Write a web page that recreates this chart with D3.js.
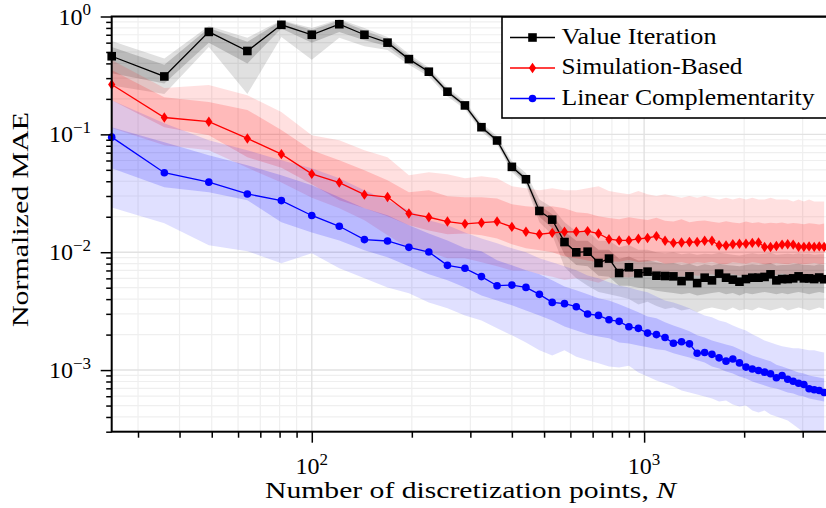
<!DOCTYPE html>
<html>
<head>
<meta charset="utf-8">
<script src="https://cdn.jsdelivr.net/npm/d3@7"></script>
<style>
  html, body { margin: 0; padding: 0; background: #fff; }
  svg { display: block; }
  text { font-family: "Liberation Serif", "Times New Roman", serif; fill: #000; }
</style>
</head>
<body>
<svg id="chart" width="826" height="508"></svg>
<script>
// Number of discretization points (k x k grids, k = 5..59)
const N = [25,36,49,64,81,100,121,144,169,196,225,256,289,324,361,400,441,484,529,576,
  625,676,729,784,841,900,961,1024,1089,1156,1225,1296,1369,1444,1521,1600,1681,1764,1849,1936,
  2025,2116,2209,2304,2401,2500,2601,2704,2809,2916,3025,3136,3249,3364,3481];

// Value Iteration: mean and two percentile bands
const viMean = [0.46,0.31,0.74,0.51,0.85,0.70,0.86,0.70,0.60,0.435,
  0.34,0.23,0.176,0.115,0.0887,0.053,0.0416,0.0224,0.0189,0.0122,
  0.00998,0.0101,0.0081,0.00883,0.00666,0.00745,0.00662,0.00684,0.00632,0.00628,
  0.00624,0.00569,0.00624,0.00547,0.00608,0.00577,0.00658,0.00608,0.00585,0.00562,
  0.00592,0.00608,0.00608,0.00617,0.00649,0.00577,0.00592,0.00592,0.006,0.00624,
  0.006,0.006,0.00592,0.0061,0.0059];
const viInHi = [0.55,0.39,0.80,0.61,0.92,0.77,0.93,0.76,0.64,0.46,
  0.355,0.24,0.183,0.12,0.093,0.056,0.044,0.025,0.021,0.015,
  0.0125,0.0125,0.0105,0.0105,0.0088,0.0092,0.0085,0.0086,0.0082,0.0080,
  0.0081,0.0078,0.0080,0.0076,0.0079,0.0077,0.0080,0.0078,0.0077,0.0076,
  0.0078,0.0079,0.0078,0.0079,0.0081,0.0077,0.0078,0.0078,0.0079,0.0080,
  0.0078,0.0078,0.0077,0.0079,0.0078];
const viInLo = [0.33,0.27,0.60,0.40,0.79,0.60,0.74,0.63,0.56,0.41,
  0.325,0.22,0.169,0.11,0.085,0.050,0.039,0.020,0.016,0.0095,
  0.0078,0.0076,0.0063,0.0062,0.0052,0.0052,0.0050,0.0049,0.0047,0.0046,
  0.0045,0.0044,0.0045,0.0043,0.0044,0.0045,0.0046,0.0044,0.0045,0.0043,
  0.0045,0.0044,0.0045,0.0046,0.0045,0.0044,0.0045,0.0044,0.0045,0.0046,
  0.0045,0.0044,0.0045,0.0046,0.0045];
const viOutHi = [0.62,0.44,0.83,0.66,0.93,0.80,0.95,0.80,0.67,0.48,
  0.37,0.25,0.19,0.125,0.097,0.059,0.047,0.028,0.024,0.018,
  0.015,0.015,0.0125,0.0125,0.011,0.0115,0.0105,0.0105,0.0100,0.0098,
  0.0100,0.0096,0.0098,0.0095,0.0097,0.0096,0.0099,0.0097,0.0095,0.0094,
  0.0096,0.0098,0.0096,0.0097,0.0099,0.0095,0.0096,0.0097,0.0096,0.0098,
  0.0096,0.0097,0.0095,0.0096,0.0096];
const viOutLo = [0.26,0.22,0.55,0.22,0.67,0.43,0.66,0.56,0.52,0.39,
  0.31,0.21,0.163,0.106,0.082,0.048,0.037,0.018,0.014,0.0075,
  0.006,0.0052,0.0046,0.0044,0.0042,0.0040,0.0036,0.0038,0.0035,0.0033,
  0.0034,0.0032,0.0033,0.0031,0.0033,0.0034,0.0033,0.0032,0.0034,0.0032,
  0.0033,0.0032,0.0034,0.0033,0.0032,0.0033,0.0034,0.0032,0.0033,0.0034,
  0.0033,0.0032,0.0033,0.0034,0.0033];

// Simulation-Based
const sbMean = [0.265,0.139,0.128,0.0923,0.0679,0.0462,0.039,0.0308,0.0294,0.0213,
  0.0198,0.0182,0.0174,0.0178,0.0182,0.0164,0.0149,0.0142,0.0146,0.0149,
  0.0149,0.0151,0.0144,0.0129,0.0126,0.0126,0.0130,0.0132,0.0137,0.0125,
  0.0120,0.0121,0.0122,0.0122,0.0125,0.0125,0.01145,0.0114,0.01167,0.0118,
  0.0118,0.0120,0.0121,0.01107,0.01107,0.0113,0.0116,0.01167,0.0116,0.0111,
  0.0111,0.0112,0.0111,0.0112,0.0111];
const sbInHi = [0.351,0.206,0.188,0.161,0.109,0.0734,0.0604,0.0496,0.0408,0.0322,
  0.0336,0.0298,0.0292,0.0292,0.0286,0.0255,0.0245,0.0241,0.0245,0.0236,
  0.0218,0.0214,0.0202,0.0195,0.0190,0.0198,0.0192,0.0188,0.0196,0.0185,
  0.0182,0.0190,0.0180,0.0184,0.0186,0.0181,0.0178,0.0183,0.0179,0.0176,
  0.0182,0.0177,0.0180,0.0175,0.0178,0.0176,0.0179,0.0174,0.0177,0.0175,
  0.0173,0.0176,0.0174,0.0172,0.0175];
const sbInLo = [0.195,0.115,0.0985,0.064,0.052,0.0378,0.0276,0.0236,0.0202,0.0169,
  0.0153,0.0142,0.0144,0.0139,0.0131,0.0117,0.0108,0.0104,0.0100,0.0092,
  0.0089,0.0085,0.0082,0.0084,0.0083,0.0086,0.0082,0.0084,0.0085,0.0080,
  0.0081,0.0082,0.0080,0.0082,0.0081,0.0083,0.0080,0.0079,0.0082,0.0081,
  0.0080,0.0082,0.0081,0.0079,0.0080,0.0081,0.0080,0.0079,0.0081,0.0080,
  0.0079,0.0080,0.0081,0.0080,0.0079];
const sbOutHi = [0.427,0.247,0.262,0.215,0.155,0.0985,0.0893,0.0734,0.064,0.045,
  0.0477,0.0459,0.0425,0.0441,0.0425,0.0363,0.0349,0.0336,0.0349,0.0336,
  0.0336,0.0349,0.0363,0.033,0.032,0.031,0.033,0.031,0.030,0.031,
  0.030,0.029,0.030,0.029,0.030,0.029,0.028,0.029,0.028,0.029,
  0.028,0.029,0.028,0.028,0.029,0.028,0.028,0.028,0.027,0.028,
  0.027,0.028,0.027,0.027,0.027];
const sbOutLo = [0.113,0.081,0.0734,0.052,0.039,0.029,0.0236,0.0187,0.0139,0.0108,
  0.0100,0.0089,0.0089,0.0082,0.0076,0.0070,0.0070,0.0065,0.0062,0.0058,
  0.0060,0.0058,0.0055,0.0060,0.0062,0.0061,0.0063,0.0064,0.0062,0.0063,
  0.0064,0.0062,0.0065,0.0063,0.0064,0.0065,0.0063,0.0064,0.0065,0.0063,
  0.0064,0.0066,0.0064,0.0063,0.0065,0.0064,0.0066,0.0064,0.0065,0.0063,
  0.0064,0.0065,0.0064,0.0063,0.0064];

// Linear Complementarity
const lcMean = [0.0947,0.0473,0.0393,0.0312,0.0274,0.0205,0.0166,0.0128,0.01245,0.0110,
  0.01004,0.00774,0.0073,0.00621,0.0052,0.00526,0.00503,0.00439,0.00375,0.00366,
  0.00345,0.00299,0.00291,0.00267,0.00259,0.00233,0.00226,0.00206,0.0020,0.00189,
  0.00169,0.00174,0.00167,0.00139,0.00141,0.00136,0.00127,0.00119,0.00124,0.00115,
  0.00106,0.00102,0.000993,0.00096,0.00093,0.00086,0.0009,0.000837,0.000805,0.000774,
  0.000755,0.000694,0.00068,0.000671,0.000645];
const lcInHi = [0.115,0.0859,0.0666,0.0547,0.045,0.037,0.0292,0.0236,0.0206,0.0169,
  0.0144,0.0126,0.0108,0.0102,0.00853,0.00774,0.00702,0.0065,0.00577,0.00513,
  0.00475,0.0044,0.00406,0.0039,0.00361,0.00334,0.00309,0.00285,0.00275,0.00254,
  0.00239,0.00226,0.00213,0.00197,0.00189,0.00178,0.00171,0.00165,0.00159,0.0015,
  0.00141,0.00133,0.00128,0.00123,0.00119,0.00111,0.00107,0.00103,0.000992,0.000954,
  0.000935,0.0009,0.000882,0.000865,0.000848];
const lcInLo = [0.0516,0.0356,0.0323,0.0276,0.018,0.0147,0.0126,0.01038,0.00905,0.00759,
  0.0065,0.00577,0.00503,0.0043,0.0039,0.00354,0.00321,0.00291,0.00264,0.00234,
  0.00217,0.00201,0.00193,0.00186,0.00171,0.00168,0.00162,0.00156,0.0015,0.00147,
  0.00139,0.00133,0.00128,0.00121,0.00116,0.00107,0.00103,0.000972,0.000935,0.000882,
  0.00085,0.0008,0.00077,0.00074,0.000712,0.000698,0.000671,0.000645,0.000632,0.000608,
  0.000596,0.000573,0.000562,0.000552,0.000541];
const lcOutHi = [0.195,0.1245,0.0893,0.0734,0.0604,0.0516,0.0424,0.0336,0.0276,0.0227,
  0.0187,0.0169,0.0147,0.0131,0.0119,0.0108,0.0100,0.00888,0.0082,0.00759,
  0.00702,0.00636,0.006,0.00555,0.00523,0.00503,0.00475,0.00457,0.00422,0.0039,
  0.00375,0.00354,0.00334,0.00309,0.00291,0.0028,0.00264,0.00254,0.00239,0.00226,
  0.00217,0.00201,0.0019,0.00178,0.00171,0.00165,0.00159,0.00156,0.00153,0.00153,
  0.0015,0.00147,0.00147,0.00144,0.00141];
const lcOutLo = [0.024,0.0176,0.01144,0.0102,0.00805,0.0098,0.0073,0.006,0.00503,0.00448,
  0.00375,0.00334,0.00291,0.00264,0.00226,0.00197,0.00171,0.00147,0.00133,0.00147,
  0.0013,0.00121,0.00114,0.00107,0.00105,0.00109,0.000954,0.00088,0.000816,0.00077,
  0.000726,0.000671,0.000645,0.00062,0.000596,0.000573,0.00054,0.000552,0.00051,0.00049,
  0.0005,0.000454,0.000436,0.000454,0.00042,0.000403,0.000388,0.000373,0.000345,0.000319,
  0.000295,0.000273,0.000252,0.000243,0.000229];

// Axis ticks
const xMajor = [100, 1000];
const xMinor = [30,40,50,60,70,80,90,200,300,400,500,600,700,800,900,2000,3000];
const yMajor = [1e-3, 1e-2, 1e-1, 1];
const yMajorExp = ["\u22123", "\u22122", "\u22121", "0"];
const xMajorExp = ["2", "3"];
const yMinor = [];
[1e-4, 1e-3, 1e-2, 1e-1].forEach(d => { for (let k = 2; k <= 9; k++) { const v = +(k * d).toPrecision(3); if (v >= 3e-4 && v < 1) yMinor.push(v); } });

const seriesNames = ["Value Iteration", "Simulation-Based", "Linear Complementarity"];

// Plot geometry
const X0 = 111.7, X1 = 829, Y0 = 16.5, Y1 = 431.7;
const x = d3.scaleLog().domain([25, 3600]).range([X0, X1]);
const y = d3.scaleLog().domain([3e-4, 1]).range([Y1, Y0]);

const svg = d3.select("#chart");
svg.append("rect").attr("width", 826).attr("height", 508).attr("fill", "#fff");

svg.append("defs").append("clipPath").attr("id", "plotclip")
  .append("rect").attr("x", X0).attr("y", Y0).attr("width", X1 - X0).attr("height", Y1 - Y0);

// Grid
const grid = svg.append("g");
grid.selectAll("line.gxm").data(xMinor).join("line")
  .attr("x1", d => x(d)).attr("x2", d => x(d)).attr("y1", Y0).attr("y2", Y1)
  .attr("stroke", "#efefef").attr("stroke-width", 1.2);
grid.selectAll("line.gym").data(yMinor).join("line")
  .attr("x1", X0).attr("x2", X1).attr("y1", d => y(d)).attr("y2", d => y(d))
  .attr("stroke", "#efefef").attr("stroke-width", 1.2);
grid.selectAll("line.gxM").data(xMajor).join("line")
  .attr("x1", d => x(d)).attr("x2", d => x(d)).attr("y1", Y0).attr("y2", Y1)
  .attr("stroke", "#e2e2e2").attr("stroke-width", 1.4);
grid.selectAll("line.gyM").data(yMajor).join("line")
  .attr("x1", X0).attr("x2", X1).attr("y1", d => y(d)).attr("y2", d => y(d))
  .attr("stroke", "#e2e2e2").attr("stroke-width", 1.4);

const series = [
  { color: "#000000", mean: viMean, inLo: viInLo, inHi: viInHi, outLo: viOutLo, outHi: viOutHi, marker: "square" },
  { color: "#ff0000", mean: sbMean, inLo: sbInLo, inHi: sbInHi, outLo: sbOutLo, outHi: sbOutHi, marker: "diamond" },
  { color: "#0000ff", mean: lcMean, inLo: lcInLo, inHi: lcInHi, outLo: lcOutLo, outHi: lcOutHi, marker: "circle" }
];

const plot = svg.append("g").attr("clip-path", "url(#plotclip)");
const idx = d3.range(N.length);

// Percentile bands
series.forEach(s => {
  const outer = d3.area().x(i => x(N[i])).y0(i => y(s.outLo[i])).y1(i => y(s.outHi[i]));
  const inner = d3.area().x(i => x(N[i])).y0(i => y(s.inLo[i])).y1(i => y(s.inHi[i]));
  plot.append("path").attr("d", outer(idx)).attr("fill", s.color).attr("fill-opacity", 0.12);
  plot.append("path").attr("d", inner(idx)).attr("fill", s.color).attr("fill-opacity", 0.17);
});

// Mean lines
series.forEach(s => {
  const line = d3.line().x(i => x(N[i])).y(i => y(s.mean[i]));
  plot.append("path").attr("d", line(idx)).attr("fill", "none")
    .attr("stroke", s.color).attr("stroke-width", 1.3);
});

function markerPath(type) {
  if (type === "square") return "M-4.3,-4.3H4.3V4.3H-4.3Z";
  if (type === "diamond") return "M0,-5.2L3.6,0L0,5.2L-3.6,0Z";
  return d3.symbol().type(d3.symbolCircle).size(Math.PI * 3.8 * 3.8)();
}

const marks = svg.append("g");
series.forEach(s => {
  marks.append("g").selectAll("path").data(idx).join("path")
    .attr("d", markerPath(s.marker))
    .attr("transform", i => `translate(${x(N[i])},${y(s.mean[i])})`)
    .attr("fill", s.color);
});

// Axis frame and ticks
const axes = svg.append("g");
axes.append("g").attr("transform", `translate(0,${Y1})`)
  .call(d3.axisBottom(x).tickValues(xMajor).tickSize(11).tickFormat(""))
  .call(g => g.select(".domain").remove());
axes.append("g").attr("transform", `translate(0,${Y1})`)
  .call(d3.axisBottom(x).tickValues(xMinor).tickSize(6).tickFormat(""))
  .call(g => g.select(".domain").remove());
axes.append("g").attr("transform", `translate(${X0},0)`)
  .call(d3.axisLeft(y).tickValues(yMajor).tickSize(11).tickFormat(""))
  .call(g => g.select(".domain").remove());
axes.append("g").attr("transform", `translate(${X0},0)`)
  .call(d3.axisLeft(y).tickValues(yMinor).tickSize(5.5).tickFormat(""))
  .call(g => g.select(".domain").remove());
axes.selectAll(".tick line").attr("stroke", "#000").attr("stroke-width", 1.5);
axes.append("rect").attr("x", X0).attr("y", Y0).attr("width", X1 - X0).attr("height", Y1 - Y0)
  .attr("fill", "none").attr("stroke", "#000").attr("stroke-width", 2);

// Tick labels (powers of ten)
yMajor.forEach((v, i) => {
  const t = svg.append("text").attr("x", 91).attr("y", y(v) + 8)
    .attr("text-anchor", "end").attr("font-size", 24);
  t.append("tspan").text("10");
  t.append("tspan").attr("dy", -9.5).attr("font-size", 17).text(yMajorExp[i]);
});
xMajor.forEach((v, i) => {
  const t = svg.append("text").attr("x", x(v)).attr("y", 474)
    .attr("text-anchor", "middle").attr("font-size", 24);
  t.append("tspan").text("10");
  t.append("tspan").attr("dy", -9.5).attr("font-size", 17).text(xMajorExp[i]);
});

// Axis titles
const xt = svg.append("text").attr("x", 265).attr("y", 498).attr("font-size", 23)
  .attr("textLength", 411).attr("lengthAdjust", "spacingAndGlyphs");
xt.append("tspan").text("Number of discretization points, ");
xt.append("tspan").attr("font-style", "italic").text("N");

svg.append("text").attr("transform", "translate(28,327) rotate(-90)")
  .attr("font-size", 23).attr("textLength", 215).attr("lengthAdjust", "spacingAndGlyphs")
  .text("Normalized MAE");

// Legend
const lg = svg.append("g");
lg.append("rect").attr("x", 502).attr("y", 17).attr("width", 340).attr("height", 101)
  .attr("fill", "#fff").attr("stroke", "#000").attr("stroke-width", 1.6);
const rowY = [37.5, 68, 98.5];
const textW = [155, 181, 253];
series.forEach((s, i) => {
  lg.append("line").attr("x1", 510).attr("x2", 555).attr("y1", rowY[i]).attr("y2", rowY[i])
    .attr("stroke", s.color).attr("stroke-width", 1.3);
  lg.append("path").attr("d", markerPath(s.marker))
    .attr("transform", `translate(532.5,${rowY[i]})`).attr("fill", s.color);
  lg.append("text").attr("x", 561.5).attr("y", rowY[i] + 6.2).attr("font-size", 23)
    .attr("textLength", textW[i]).attr("lengthAdjust", "spacingAndGlyphs")
    .text(seriesNames[i]);
});
</script>
</body>
</html>
